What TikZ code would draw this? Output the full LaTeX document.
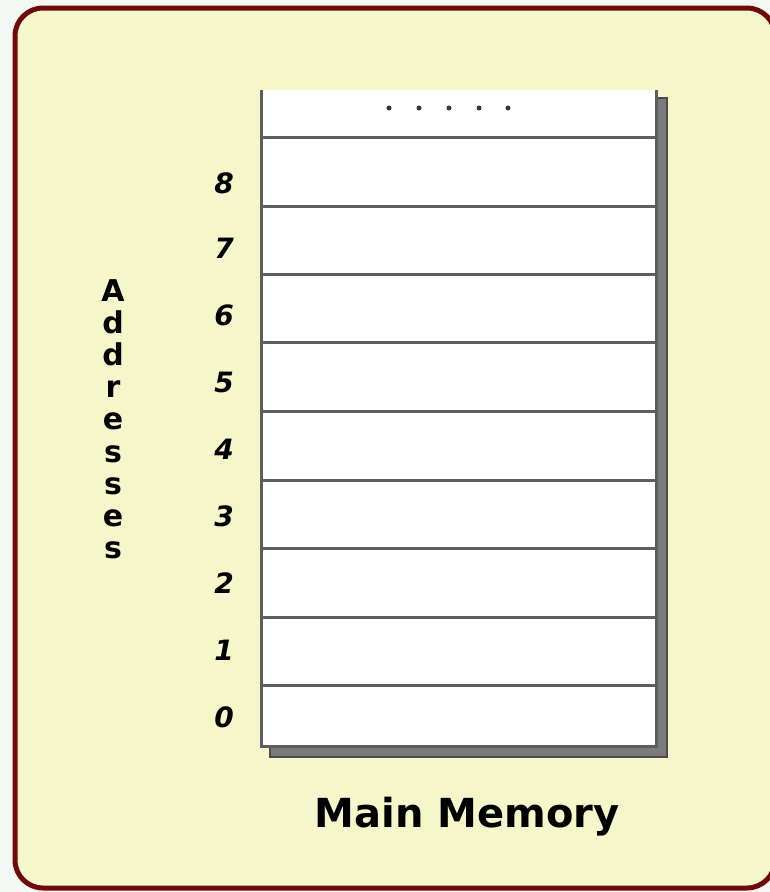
\documentclass[tikz,border=0pt]{standalone}
\usepackage{fontspec}
\setmainfont{DejaVu Sans}
\definecolor{bgout}{HTML}{F4F8F2}
\definecolor{panel}{HTML}{F5F7CB}
\definecolor{frame}{HTML}{6E0A0A}
\definecolor{cellline}{HTML}{5E5E5E}
\definecolor{shadowgray}{HTML}{7A7A7A}
\begin{document}
\begin{tikzpicture}[x=1pt,y=-1pt,
  panelbox/.style={draw=frame,line width=5pt,fill=panel,rounded corners=28pt},
  cellrule/.style={draw=cellline,line width=3pt},
  addrnum/.style={font=\fontsize{28}{30}\selectfont\bfseries\itshape,inner sep=0pt},
  vlabel/.style={font=\fontsize{30}{32.2}\selectfont\bfseries,align=center,inner sep=0pt},
  titlelabel/.style={font=\fontsize{40}{44}\selectfont\bfseries,inner sep=0pt}]
\useasboundingbox (0,0) rectangle (770,892);
\fill[bgout] (0,0) rectangle (770,892);
\draw[panelbox] (15,8) rectangle (775,888);
% shadow
\fill[shadowgray] (270,98) rectangle (667,757);
\draw[draw=cellline!80!black,line width=2pt] (658,98) -- (667,98) -- (667,757) -- (270,757) -- (270,748);
% memory body
\fill[white] (261,90) rectangle (656,746);
\coordinate (tl) at (261,90);
\coordinate (bl) at (261,746);
\coordinate (br) at (656,746);
\coordinate (tr) at (656,90);
\draw[cellrule] (tl) -- (bl) -- (br) -- (tr);
\foreach \yy in {137,206,274,342,411,480,548,617,685}
  \draw[cellrule] (261,\yy) -- (656,\yy);
% dots
\foreach \xx in {389,419,449,479,508}
  \fill[cellline!60!black] (\xx,108) circle (2.5pt);
% address numbers
\foreach \n/\yy in {0/717,1/650,2/583,3/516,4/449,5/382,6/315,7/248,8/183}
  \node[addrnum] (n\n) at (224,\yy) {\n};
\node[vlabel,anchor=north] (addr) at (113,279) {A\\d\\d\\r\\e\\s\\s\\e\\s};
\node[titlelabel] (title) at (467,817) {Main Memory};
\end{tikzpicture}
\end{document}
